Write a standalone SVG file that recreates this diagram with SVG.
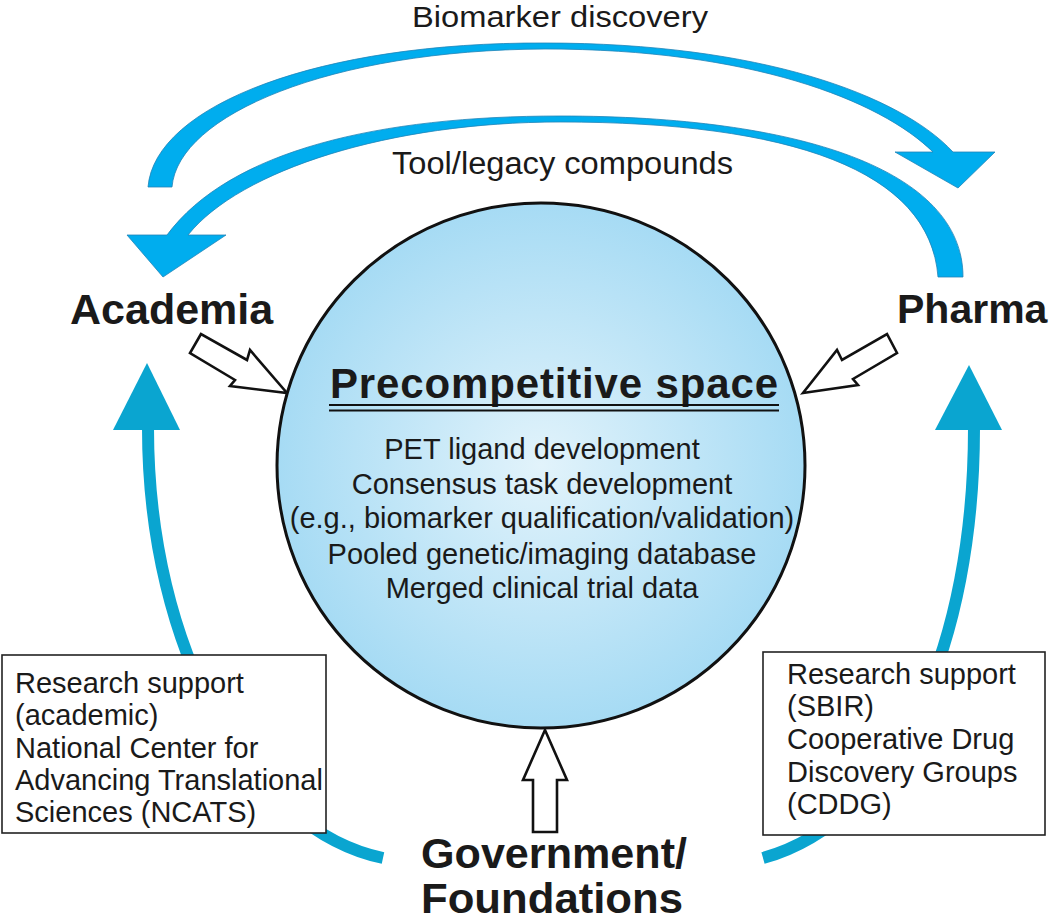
<svg xmlns="http://www.w3.org/2000/svg" width="1050" height="923" viewBox="0 0 1050 923">
<defs>
<radialGradient id="sphere" cx="0.5" cy="0.5" r="0.5">
<stop offset="0" stop-color="#e2f3fb"/>
<stop offset="1" stop-color="#a6dbf4"/>
</radialGradient>
<style>
.t{font-family:"Liberation Sans",Arial,sans-serif;fill:#1a1a1a}
.b{font-weight:bold}
.flow{fill:#00adee;stroke:#2184b8;stroke-width:0.8;stroke-linejoin:round}
.fund{fill:none;stroke:#0aa5d0;stroke-width:12}
.head{fill:#0aa5d0}
.hollow{fill:#fff;stroke:#111;stroke-width:2.6;stroke-linejoin:miter}
.box{fill:#fff;stroke:#222;stroke-width:1.6}
</style>
</defs>
<rect width="1050" height="923" fill="#fff"/>

<g id="connectors">
<path id="biomarker-arrow" class="flow" d="M148,187 C155,105 320,42 545,43 C760,43 900,95 953,152 L995,152 L958,188 L895,152 L933,152 C880,100 750,49 545,49 C330,50 178,115 172,187 Z"/>
<path id="tool-arrow" class="flow" d="M963,277 C963,170 800,116 560,116 C380,116 230,150 167,235 L127,235 L163,277 L226,235 L188,235 C240,170 390,122 560,122 C790,122 930,170 938,277 Z"/>
<path class="fund" d="M148,428 C148,650 250,830 383,858"/>
<polygon class="head" points="147,363 180,430 113,430"/>
<path class="fund" d="M974,428 C974,640 900,820 763,858"/>
<polygon class="head" points="969,365 1002,430 935,430"/>
<polygon class="hollow" points="201,334 190,353 235,380 230,386 287,393 250,350 247,360"/>
<polygon class="hollow" points="803,393 858,385 853,379 897,353 887,334 842,360 837,350"/>
<polygon class="hollow" points="545,730 567,780 557,780 557,832 533,832 533,780 523,780"/>
</g>

<g id="label-biomarker">
<text class="t" x="412" y="27" font-size="30" textLength="296" lengthAdjust="spacingAndGlyphs">Biomarker discovery</text>
</g>
<g id="label-tool">
<text class="t" x="392" y="174" font-size="31" textLength="341" lengthAdjust="spacingAndGlyphs">Tool/legacy compounds</text>
</g>

<g id="node-precompetitive">
<ellipse cx="541" cy="465.5" rx="264" ry="262.5" fill="url(#sphere)" stroke="#111" stroke-width="3"/>
<text class="t b" x="554" y="398" font-size="42" text-anchor="middle" textLength="448">Precompetitive space</text>
<line x1="329" y1="405" x2="779" y2="405" stroke="#111" stroke-width="2"/>
<line x1="329" y1="410.5" x2="779" y2="410.5" stroke="#111" stroke-width="2"/>
<g class="t" font-size="29" text-anchor="middle">
<text x="542" y="458.5">PET ligand development</text>
<text x="542" y="494">Consensus task development</text>
<text x="542" y="528">(e.g., biomarker qualification/validation)</text>
<text x="542" y="564">Pooled genetic/imaging database</text>
<text x="542" y="598">Merged clinical trial data</text>
</g>
</g>

<g id="node-academia">
<text class="t b" x="70" y="324" font-size="43">Academia</text>
</g>
<g id="node-pharma">
<text class="t b" x="897" y="323" font-size="41">Pharma</text>
</g>
<g id="node-government">
<text class="t b" x="421" y="868" font-size="42" textLength="266" lengthAdjust="spacingAndGlyphs">Government/</text>
<text class="t b" x="421" y="913" font-size="42" textLength="262" lengthAdjust="spacingAndGlyphs">Foundations</text>
</g>

<g id="box-academic">
<rect class="box" x="2" y="655" width="324" height="178"/>
<g class="t" font-size="29">
<text x="15" y="693">Research support</text>
<text x="15" y="725">(academic)</text>
<text x="15" y="757.5">National Center for</text>
<text x="15" y="789.5">Advancing Translational</text>
<text x="15" y="822">Sciences (NCATS)</text>
</g>
</g>

<g id="box-sbir">
<rect class="box" x="763" y="652" width="282" height="183"/>
<g class="t" font-size="29">
<text x="787" y="683.5">Research support</text>
<text x="787" y="716">(SBIR)</text>
<text x="787" y="748.5">Cooperative Drug</text>
<text x="787" y="781.5">Discovery Groups</text>
<text x="787" y="813.5">(CDDG)</text>
</g>
</g>
</svg>
